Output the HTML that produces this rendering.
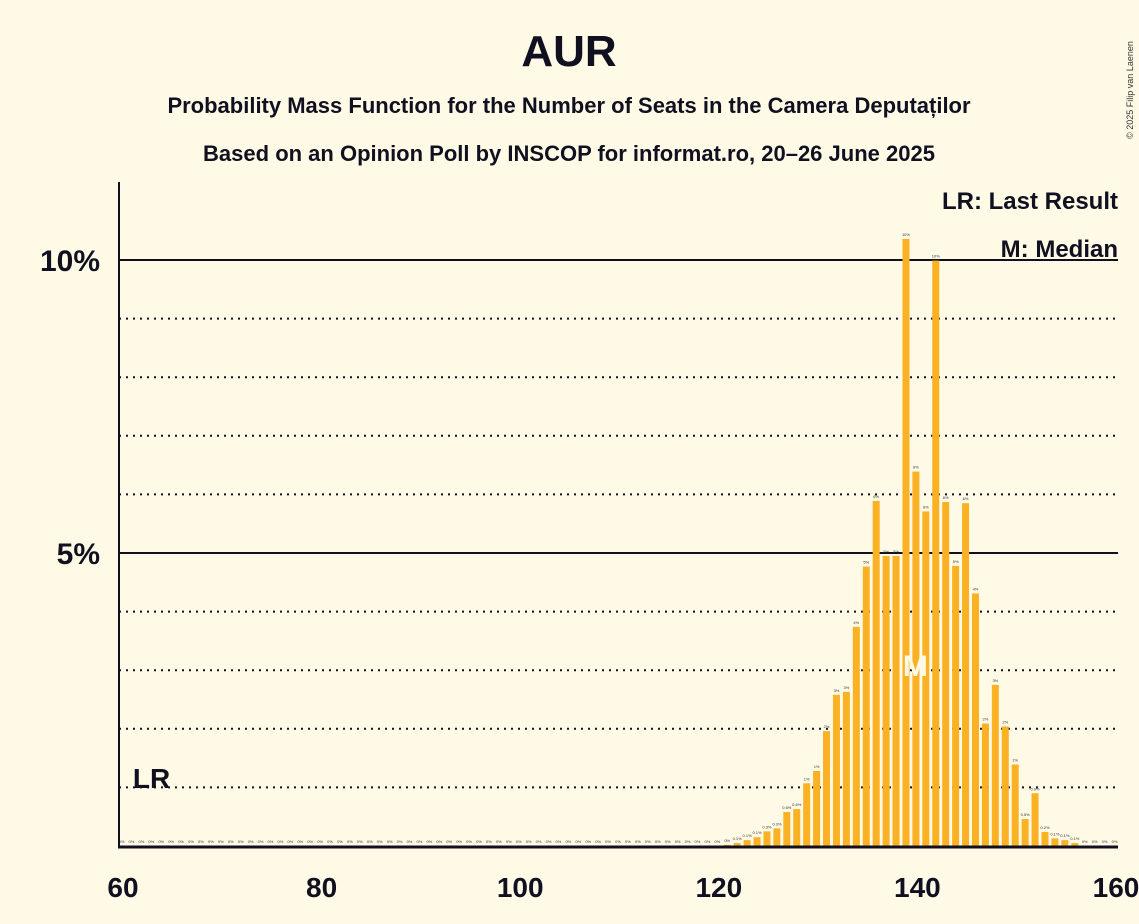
<!DOCTYPE html>
<html><head><meta charset="utf-8"><style>
body{margin:0;background:#fffae6;}
svg{display:block;font-family:"Liberation Sans",sans-serif;}
</style></head><body>
<svg id="chart" width="1139" height="924" viewBox="0 0 1139 924">
<rect width="1139" height="924" fill="#fffae6"/>
<text x="569" y="66" text-anchor="middle" font-size="44" font-weight="bold" fill="#101020">AUR</text>
<text x="569" y="113" text-anchor="middle" font-size="22" font-weight="bold" fill="#101020">Probability Mass Function for the Number of Seats in the Camera Deputaților</text>
<text x="569" y="161" text-anchor="middle" font-size="22" font-weight="bold" fill="#101020">Based on an Opinion Poll by INSCOP for informat.ro, 20–26 June 2025</text>
<text x="1133" y="90" font-size="9" fill="#333" transform="rotate(-90 1133 90)" text-anchor="middle">© 2025 Filip van Laenen</text>
<g id="grid"></g>
<g id="bars"></g>
<g id="axes"></g>
<text x="1118" y="209" text-anchor="end" font-size="24" font-weight="bold" fill="#101020">LR: Last Result</text>
<text x="1118" y="257" text-anchor="end" font-size="24" font-weight="bold" fill="#101020">M: Median</text>
<line x1="985" y1="260" x2="1118" y2="260" stroke="#101020" stroke-width="2"/>
</svg>
<script>
const seats=[];for(let s=60;s<=160;s++)seats.push(s);
const probs=[0,0,0,0,0,0,0,0,0,0, 0,0,0,0,0,0,0,0,0,0, 0,0,0,0,0,0,0,0,0,0, 0,0,0,0,0,0,0,0,0,0, 0,0,0,0,0,0,0,0,0,0, 0,0,0,0,0,0,0,0,0,0,
0,0.02,0.05,0.1,0.15,0.25,0.3,0.58,0.63,1.07,1.28,1.96,2.58,2.63,3.74,4.77,5.89,4.95,4.95,10.36,6.39,5.71,9.99,5.87,4.78,5.85,4.31,2.09,2.75,2.04,1.39,0.46,0.9,0.24,0.13,0.1,0.05,0,0,0,0];
const xTicks=[60,80,100,120,140,160];
const yTicks=[5,10];
const gridMinor=[1,2,3,4,6,7,8,9];
const median=140, lastResult=62;
const NS="http://www.w3.org/2000/svg";
const X=s=>123+(s-60)*9.93, Y=p=>846-p*58.6;
function mk(t,a,parent){const e=document.createElementNS(NS,t);for(const k in a)e.setAttribute(k,a[k]);document.getElementById(parent).appendChild(e);return e;}
gridMinor.forEach(p=>{const l=mk('line',{x1:119,x2:1118,y1:Y(p),y2:Y(p),stroke:'#101020','stroke-width':2,'stroke-dasharray':'2 5'},'grid');

});
yTicks.forEach(p=>{const l=mk('line',{x1:119,x2:1118,y1:Y(p),y2:Y(p),stroke:'#101020','stroke-width':2},'grid');


const t=mk('text',{x:100,y:Y(p)+11,'text-anchor':'end','font-size':30,'font-weight':'bold',fill:'#101020'},'axes');t.textContent=p+'%';

});
seats.forEach((s,i)=>{const p=probs[i];
if(p>0){const r=mk('rect',{x:X(s)-5,y:Y(p),width:7,height:846-Y(p),fill:'#fbb124'},'bars');

}
const t=mk('text',{x:X(s)-1.5,y:Y(p)-3,'text-anchor':'middle','font-size':4,fill:'#333'},'bars');
t.textContent=p>=1?Math.round(p)+'%':(p>=0.05?p.toFixed(1)+'%':'0%');

});
const m=mk('text',{x:X(median)-2,y:676,'text-anchor':'middle','font-size':30,'font-weight':'bold',fill:'#fffae6'},'bars');m.textContent='M';


const lr=mk('text',{x:X(lastResult)-10,y:788,'font-size':28,'font-weight':'bold',fill:'#101020'},'bars');lr.textContent='LR';


const ya=mk('line',{x1:119,x2:119,y1:182,y2:847,stroke:'#101020','stroke-width':2},'axes');


const xa=mk('line',{x1:118,x2:1118,y1:847,y2:847,stroke:'#101020','stroke-width':3},'axes');


xTicks.forEach(s=>{const t=mk('text',{x:X(s),y:897,'text-anchor':'middle','font-size':28,'font-weight':'bold',fill:'#101020'},'axes');t.textContent=s;

});
</script>
</body></html>
